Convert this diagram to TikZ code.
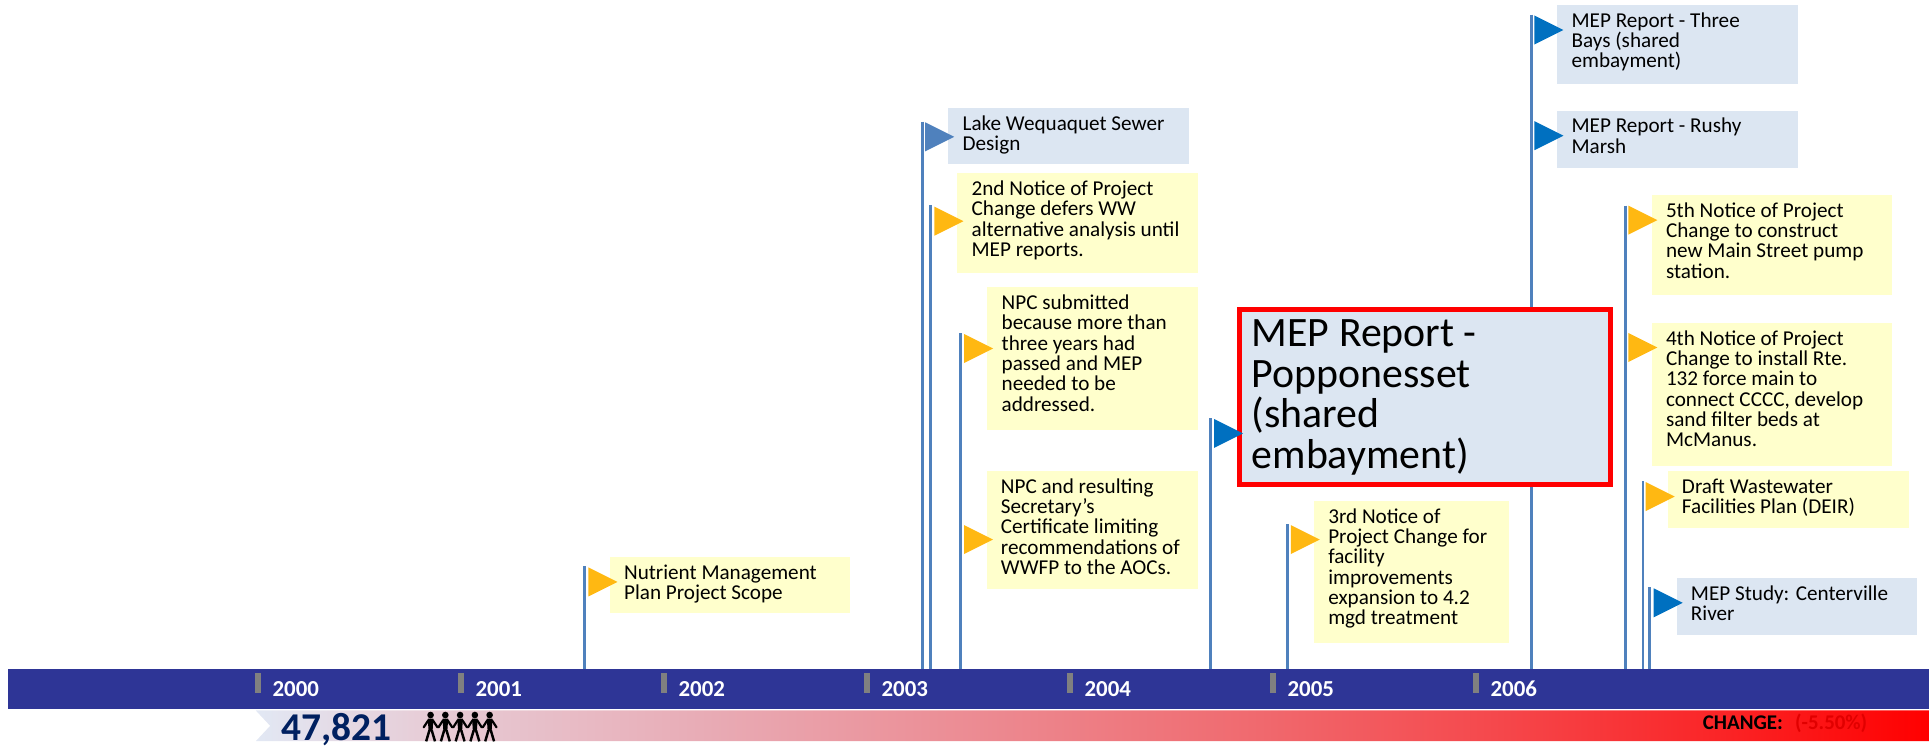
\documentclass[tikz,border=0pt]{standalone}
\usepackage{fontspec}
\setmainfont{Carlito}
\usetikzlibrary{calc}
\definecolor{barblue}{RGB}{46,53,150}
\definecolor{polecol}{RGB}{79,129,189}
\definecolor{flagblue}{RGB}{0,112,192}
\definecolor{flagor}{RGB}{255,184,18}
\definecolor{boxblue}{RGB}{220,230,242}
\definecolor{boxyel}{RGB}{255,255,204}
\definecolor{navy}{RGB}{0,32,96}
\definecolor{tickgray}{RGB}{128,128,128}
\definecolor{redtxt}{RGB}{225,0,0}
\definecolor{g0}{RGB}{226,232,244}
\definecolor{g1}{RGB}{231,205,215}
\definecolor{g2}{RGB}{232,172,182}
\definecolor{g3}{RGB}{240,105,110}
\definecolor{g4}{RGB}{245,72,76}
\definecolor{g5}{RGB}{250,38,40}
\definecolor{g6}{RGB}{255,0,0}
\pgfdeclarehorizontalshading{popgrad}{100bp}{color(0bp)=(g0); color(25bp)=(g0); color(30bp)=(g1); color(38.25bp)=(g2); color(55bp)=(g3); color(62bp)=(g4); color(68.5bp)=(g5); color(75bp)=(g6); color(100bp)=(g6)}
\newcommand{\fl}{\rule{0pt}{13pt}}
\newcommand{\flb}{\rule{0pt}{26pt}}
\newcommand{\boxnode}[7]{%
  \pgfmathsetmacro{\bw}{#5-#3}\pgfmathsetmacro{\bh}{#6-#4}%
  \node[#2, minimum width=\bw pt, minimum height=\bh pt] (#1) at (#3,#4) {};
  \node[txt] (#1t) at ([xshift=11.6pt, yshift=-5pt]#1.north west) {\fl #7};}
\newcommand{\flagtri}[3]{\fill[#3] (#1,#2) -- ++(23.6,11.8) -- ++(-23.6,11.8) -- cycle;}
\newcommand{\person}[1]{%
  \fill (#1,581.2) circle (2.7);
  \fill (#1-2.3,584.2) -- (#1+2.3,584.2) -- (#1+1.6,594.5) -- (#1-1.6,594.5) -- cycle;
  \draw[line width=2pt] (#1-0.9,593.5) -- (#1-3.6,602.6);
  \draw[line width=2pt] (#1+0.9,593.5) -- (#1+3.6,602.6);
  \draw[line width=1.8pt, line cap=round] (#1-5.6,591.2) -- (#1-1.8,585.4);
  \draw[line width=1.8pt, line cap=round] (#1+1.8,585.4) -- (#1+5.6,591.2);}
\tikzset{
  txt/.style={anchor=north west, inner sep=0pt, outer sep=0pt, align=left, font=\fontsize{17.2}{16.5}\selectfont},
  ybox/.style={anchor=north west, inner sep=0pt, outer sep=0pt, fill=boxyel},
  bbox/.style={anchor=north west, inner sep=0pt, outer sep=0pt, fill=boxblue},
  bigbox/.style={anchor=north west, inner sep=0pt, outer sep=0pt, fill=boxblue, draw=red, line width=4pt},
  pole/.style={draw=polecol, line width=2.4pt},
  yearlbl/.style={anchor=base west, inner sep=0pt, text=white, font=\bfseries\fontsize{18.6}{20}\selectfont},
}
\begin{document}
\begin{tikzpicture}[x=1pt,y=-1pt]
\useasboundingbox (0,0) rectangle (1568,607.2);
% poles
\foreach \n/\px/\py in {p1/475.4/460.1, p2/749.5/98.9, p3/756.6/166.6, p4/780.9/271, p5/984.2/340, p6/1046.8/426.2, p7/1244.5/11.8, p8/1321/167.1, p9/1335.5/391, p10/1340.7/477.4}{
  \coordinate (\n t) at (\px,\py);
  \coordinate (\n b) at (\px,546);
  \draw[pole] (\n t) -- (\n b);
}
% boxes
\boxnode{nutr}{ybox}{495.7}{453}{691}{498.6}{Nutrient Management\\Plan Project Scope}
\boxnode{lake}{bbox}{770.9}{88}{966.3}{133.6}{Lake Wequaquet Sewer\\Design}
\boxnode{second}{ybox}{778.2}{140.9}{973.6}{221.6}{2nd Notice of Project\\Change defers WW\\alternative analysis until\\MEP reports.}
\boxnode{npcs}{ybox}{802.6}{233.6}{973.6}{349.5}{NPC submitted\\because more than\\three years had\\passed and MEP\\needed to be\\addressed.}
\boxnode{npcr}{ybox}{802}{382.9}{974}{478.8}{NPC and resulting\\Secretary’s\\Certificate limiting\\recommendations of\\WWFP to the AOCs.}
\boxnode{third}{ybox}{1068.1}{407.3}{1226.6}{523}{3rd Notice of\\Project Change for\\facility\\improvements\\expansion to 4.2\\mgd treatment}
\boxnode{threeb}{bbox}{1265.9}{4.2}{1461.3}{68}{MEP Report - Three\\Bays (shared\\embayment)}
\boxnode{rushy}{bbox}{1265.9}{90.1}{1461.3}{136.6}{MEP Report - Rushy\\Marsh}
\boxnode{fifth}{ybox}{1342.6}{158.7}{1537.7}{239.9}{5th Notice of Project\\Change to construct\\new Main Street pump\\station.}
\boxnode{fourth}{ybox}{1342.6}{262.6}{1537.7}{378.7}{4th Notice of Project\\Change to install Rte.\\132 force main to\\connect CCCC, develop\\sand filter beds at\\McManus.}
\boxnode{draft}{ybox}{1355.6}{382.9}{1551.8}{429.1}{Draft Wastewater\\Facilities Plan (DEIR)}
\boxnode{study}{bbox}{1362.9}{470.1}{1558.3}{516.2}{MEP Study: Centerville\\River}
% big box
\node[bigbox, minimum width=301.2pt, minimum height=142.2pt] (popp) at (1007.8,251.8) {};
\node[txt, font=\fontsize{34}{33}\selectfont] (poppt) at ([xshift=9.7pt, yshift=-4pt]popp.north west) {\flb MEP Report -\\Popponesset\\(shared\\embayment)};
% flags
\flagtri{478.3}{461.2}{flagor}
\flagtri{752}{99.4}{polecol}
\flagtri{759.5}{168}{flagor}
\flagtri{783.6}{271.5}{flagor}
\flagtri{783.6}{426.8}{flagor}
\flagtri{986.8}{340.5}{flagblue}
\flagtri{1049.2}{426.8}{flagor}
\flagtri{1247.2}{12.6}{flagblue}
\flagtri{1247.2}{98.5}{flagblue}
\flagtri{1323.6}{167.1}{flagor}
\flagtri{1323.6}{270.7}{flagor}
\flagtri{1337.7}{391.8}{flagor}
\flagtri{1344.2}{478.2}{flagblue}
% timeline bar
\fill[barblue] (6.5,543.8) rectangle (1568,576.3);
\foreach \i/\yr in {0/2000,1/2001,2/2002,3/2003,4/2004,5/2005,6/2006}{
  \fill[tickgray] ({207.2+165*\i},547.3) rectangle ++(4.9,15.8);
  \node[yearlbl] (y\yr) at ({221.4+165*\i},566.3) {\yr};
}
% population band
\shade[shading=popgrad] (207.9,577.5) -- (1568,577.5) -- (1568,602.5) -- (207.9,602.5) -- (219.6,590) -- cycle;
\node[anchor=base west, inner sep=0pt, text=navy, font=\bfseries\fontsize{32}{34}\selectfont] (pop) at (228.6,602.3) {47,821};
\begin{scope}[black]
\foreach \px in {350,362,374,386,398}{\person{\px}}
\end{scope}
\node[anchor=base west, inner sep=0pt, font=\bfseries\fontsize{17}{20}\selectfont] (chg) at (1384,592.9) {CHANGE:};
\node[anchor=base west, inner sep=0pt, text=redtxt, font=\bfseries\fontsize{17}{20}\selectfont] (chgv) at (1459,592.9) {(-5.50\%)};
\end{tikzpicture}
\end{document}
